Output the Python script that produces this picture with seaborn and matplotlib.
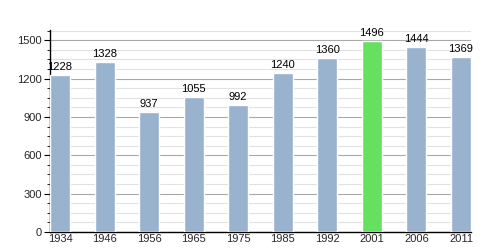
import matplotlib
matplotlib.use("Agg")
import matplotlib.pyplot as plt
import seaborn as sns
import pandas as pd
from matplotlib.ticker import MultipleLocator

years = ["1934", "1946", "1956", "1965", "1975", "1985", "1992", "2001", "2006", "2011"]
population = [1228, 1328, 937, 1055, 992, 1240, 1360, 1496, 1444, 1369]
highlight_year = "2001"

sns.set_theme(style="white")
plt.rcParams['font.family'] = ['Liberation Sans', 'DejaVu Sans']

df = pd.DataFrame({"year": years, "pop": population})
palette = {y: ("#66e05f" if y == highlight_year else "#99b3cf") for y in years}

fig = plt.figure(figsize=(5, 2.5), dpi=100)
ax = fig.add_axes([0.1, 0.072, 0.842, 0.808])
sns.barplot(data=df, x="year", y="pop", hue="year", palette=palette, order=years,
            width=0.45, legend=False, ax=ax, saturation=1, zorder=3)

ax.set_xlim(-0.225, len(years) - 1 + 0.225)
ax.set_ylim(0, 1580)
ax.yaxis.set_major_locator(MultipleLocator(300))
ax.yaxis.set_minor_locator(MultipleLocator(75))
ax.grid(axis="y", which="major", color="#a8a8a8", linewidth=0.8, zorder=0)
ax.grid(axis="y", which="minor", color="#e2e2e2", linewidth=0.8, zorder=0)
ax.set_axisbelow(True)

for s in ["top", "right"]:
    ax.spines[s].set_visible(False)
for s in ["left", "bottom"]:
    ax.spines[s].set_color("black")
    ax.spines[s].set_linewidth(1.0)

ax.tick_params(axis="y", which="major", left=True, length=4, width=0.8, color="black",
               labelsize=8, pad=2)
ax.tick_params(axis="y", which="minor", left=True, length=2, width=0.6, color="black")
ax.tick_params(axis="x", bottom=False, length=0, labelsize=8, pad=1.5)
ax.set_xlabel("")
ax.set_ylabel("")

for i, v in enumerate(population):
    ax.text(i, v + 25, str(v), ha="center", va="bottom", fontsize=8, color="black",
            clip_on=False)

fig.savefig("out.png", dpi=100)
